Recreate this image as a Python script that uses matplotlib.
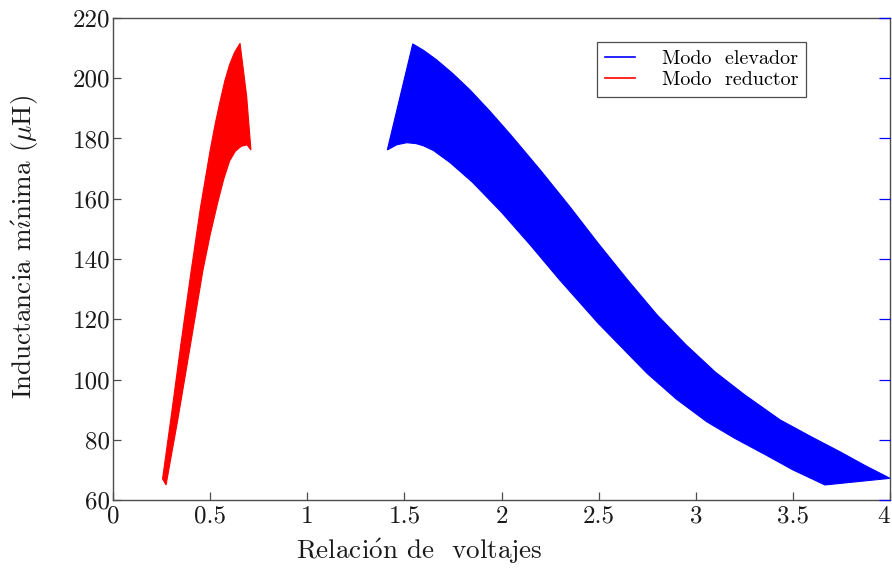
import matplotlib
matplotlib.use("Agg")
import matplotlib.pyplot as plt
from matplotlib.lines import Line2D

# ── Modo reductor: lower and upper edge of the curve family ──────────────────
red_low_x = [0.273, 0.30, 0.333, 0.40, 0.463, 0.50, 0.54, 0.57, 0.60, 0.63, 0.66, 0.69, 0.71]
red_low_y = [65.0, 74.7, 86.5, 112.0, 136.3, 148.0, 159.0, 166.5, 172.5, 175.8, 177.4, 177.9, 176.2]
red_tip_x = [0.688]
red_tip_y = [194.0]
red_top_x = [0.255, 0.30, 0.35, 0.40, 0.45, 0.50, 0.525, 0.55, 0.575, 0.60, 0.625, 0.654]
red_top_y = [67.0, 88.0, 112.0, 135.0, 157.0, 176.0, 184.5, 192.0, 199.0, 204.5, 208.5, 211.6]

# ── Modo elevador: lower and upper edge of the curve family ──────────────────
blue_low_x = [1.412, 1.46, 1.512, 1.56, 1.597, 1.65, 1.735, 1.85, 2.0, 2.15, 2.3,
              2.5, 2.75, 2.9, 3.056, 3.2, 3.365, 3.5, 3.665]
blue_low_y = [176.2, 177.9, 178.6, 178.3, 177.6, 176.0, 172.0, 165.5, 155.5, 144.5, 133.0,
              118.5, 102.0, 93.5, 86.0, 80.5, 74.8, 70.0, 65.0]
blue_top_x = [1.543, 1.6, 1.666, 1.75, 1.838, 1.941, 2.05, 2.2, 2.35, 2.5, 2.65,
              2.8, 2.95, 3.1, 3.25, 3.434, 3.6, 3.743, 3.87, 4.0]
blue_top_y = [211.4, 209.2, 206.1, 201.5, 196.1, 189.0, 181.0, 169.5, 157.5, 145.0, 133.0,
              121.5, 111.5, 102.5, 95.0, 86.6, 80.8, 76.0, 71.5, 67.2]

x_ticks = [0, 0.5, 1, 1.5, 2, 2.5, 3, 3.5, 4]
x_tick_labels = ["0", "0.5", "1", "1.5", "2", "2.5", "3", "3.5", "4"]
y_ticks = [60, 80, 100, 120, 140, 160, 180, 200, 220]

plt.rcParams["font.family"] = ["cmr10", "DejaVu Serif"]
plt.rcParams["mathtext.fontset"] = "cm"
plt.rcParams["axes.unicode_minus"] = False

fig = plt.figure(figsize=(8.92, 5.71), dpi=100)
ax = fig.add_axes([0.1267, 0.1243, 0.8711, 0.8442])

# bands (polygon = lower edge, tip, upper edge reversed)
red_px = red_low_x + red_tip_x + red_top_x[::-1]
red_py = red_low_y + red_tip_y + red_top_y[::-1]
ax.fill(red_px, red_py, facecolor="#ff0000", edgecolor="#ff0000", lw=0.8)

blue_px = blue_low_x + blue_top_x[::-1]
blue_py = blue_low_y + blue_top_y[::-1]
ax.fill(blue_px, blue_py, facecolor="#0000ff", edgecolor="#0000ff", lw=0.8)

ax.set_xlim(0, 4)
ax.set_ylim(60, 220)
ax.set_xticks(x_ticks)
ax.set_xticklabels(x_tick_labels)
ax.set_yticks(y_ticks)
ax.get_xticklabels()[-1].set_ha("right")

for s in ax.spines.values():
    s.set_color("#4d4d4d")
    s.set_linewidth(1.0)

ax.tick_params(axis="both", direction="in", length=6, width=0.9, color="#4d4d4d",
               labelsize=18, labelcolor="#1a1a1a")
ax.tick_params(axis="y", pad=2)
ax.tick_params(axis="x", pad=4)

# blue ticks on the right side
ax2 = ax.twinx()
ax2.set_ylim(60, 220)
ax2.set_yticks(y_ticks)
ax2.tick_params(axis="y", direction="in", length=8, width=0.9, color="#0000ff",
                labelright=False)
for s in ax2.spines.values():
    s.set_visible(False)

ax.set_xlabel(r"Relaci$\mathrm{\acute{o}}$n de  voltajes", fontsize=19.5, color="#1a1a1a")
ax.set_ylabel(r"Inductancia m$\mathrm{\acute{\imath}}$nima ($\mu$H)", fontsize=19.5,
              color="#1a1a1a")
ax.xaxis.set_label_coords(0.394, -0.075)
ax.yaxis.set_label_coords(-0.093, 0.525)

handles = [Line2D([], [], color="#0000ff", lw=1.2),
           Line2D([], [], color="#ff0000", lw=1.2)]
leg = ax.legend(handles, ["Modo  elevador", "Modo  reductor"],
                loc="upper right", bbox_to_anchor=(0.892, 0.950), borderaxespad=0,
                fontsize=14.5, frameon=True, fancybox=False, framealpha=1,
                handlelength=1.5, handletextpad=1.3, borderpad=0.4,
                labelspacing=0.15)
leg.get_frame().set_edgecolor("#4d4d4d")
leg.get_frame().set_linewidth(0.9)

fig.savefig("out.png", dpi=100)
